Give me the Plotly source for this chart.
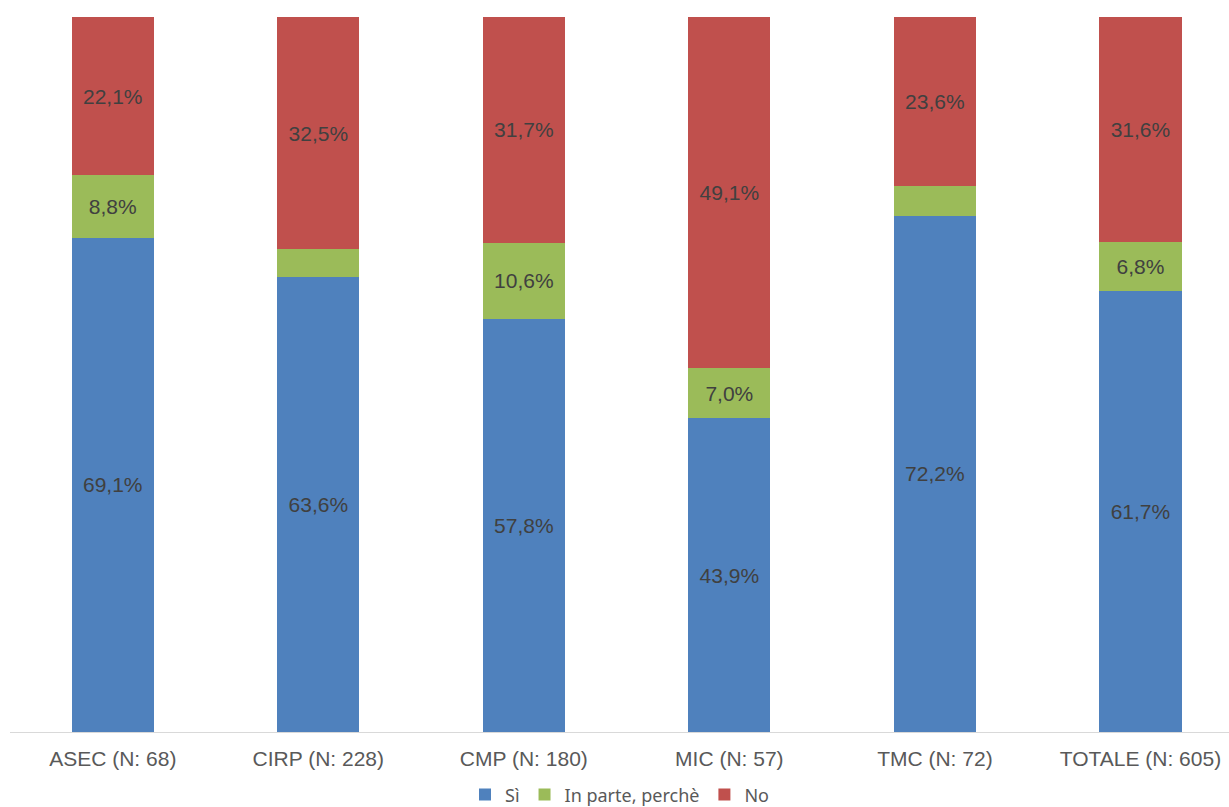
import plotly.graph_objects as go

categories = ["ASEC (N: 68)", "CIRP (N: 228)", "CMP (N: 180)", "MIC (N: 57)", "TMC (N: 72)", "TOTALE (N: 605)"]
si = [69.1, 63.6, 57.8, 43.9, 72.2, 61.7]
in_parte = [8.8, 3.9, 10.6, 7.0, 4.2, 6.8]
no = [22.1, 32.5, 31.7, 49.1, 23.6, 31.6]
in_parte_labelled = [True, False, True, True, False, True]

series_names = ["Sì", "In parte, perchè", "No"]
colors = ["#4F81BD", "#9BBB59", "#C0504D"]


def fmt(v):
    return f"{v:.1f}%".replace(".", ",")


texts = [
    [fmt(v) for v in si],
    [fmt(v) if show else "" for v, show in zip(in_parte, in_parte_labelled)],
    [fmt(v) for v in no],
]

fig = go.Figure()
for name, vals, col, txt in zip(series_names, [si, in_parte, no], colors, texts):
    fig.add_trace(go.Bar(
        x=categories, y=vals, name=name,
        marker=dict(color=col, line=dict(width=0)),
        width=0.4,
        text=txt, textposition="inside", insidetextanchor="middle",
        textangle=0,
        textfont=dict(family="Liberation Sans, Arial, sans-serif", size=21, color="#404040"),
        hoverinfo="skip",
    ))

fig.update_layout(
    barmode="stack",
    width=1229, height=807,
    margin=dict(l=10, r=0, t=17, b=75, autoexpand=False),
    plot_bgcolor="white", paper_bgcolor="white",
    showlegend=True,
    legend=dict(
        orientation="h", x=0.5, xanchor="center",
        yref="container", y=0.015, yanchor="middle",
        font=dict(family="Noto Sans, Liberation Sans, sans-serif", size=18, color="#595959"),
        itemwidth=30, traceorder="normal",
    ),
    uniformtext=dict(minsize=8, mode="show"),
)
fig.update_xaxes(
    range=[-0.5, 5.431],
    showline=True, linecolor="#D9D9D9", linewidth=1,
    ticks="outside", ticklen=8, tickcolor="rgba(0,0,0,0)",
    tickfont=dict(family="Liberation Sans, Arial, sans-serif", size=21, color="#595959"),
    showgrid=False,
)
fig.update_yaxes(
    range=[0, 100], visible=False, showgrid=False,
)

fig.write_html("out.html", config={"displayModeBar": False},
               post_script="document.body.style.margin='0px';")
